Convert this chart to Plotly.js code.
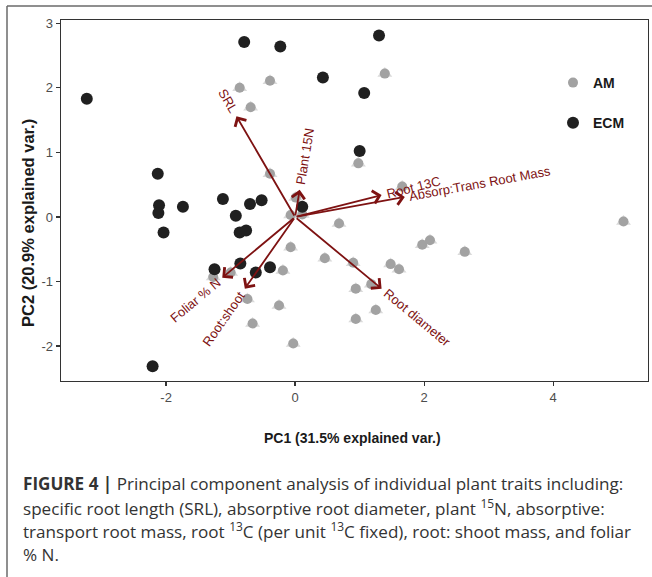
<!DOCTYPE html>
<html><head><meta charset="utf-8">
<script src="https://cdn.plot.ly/plotly-3.0.1.min.js"></script>
<style>html,body{margin:0;padding:0;background:#fff;}#chart{width:652px;height:577px;}</style>
</head><body><div id="chart"></div>
<script>
// ---- data ----
const groupNames = ["AM", "ECM"];
const amPC1 = [-0.86, -0.39, -0.69, -0.39, 1.39, 0.98, 1.66, 0.01, -0.07, 0.11, 0.68, -0.07, 0.46, 0.90, -1.00, -0.19, -1.27, -0.74, -0.25, -0.66, -0.03, 0.94, 1.18, 0.94, 1.25, 1.48, 1.61, 1.97, 2.09, 2.63, 5.09];
const amPC2 = [2.00, 2.11, 1.70, 0.67, 2.22, 0.83, 0.47, 0.30, 0.03, 0.04, -0.10, -0.47, -0.64, -0.71, -0.86, -0.83, -0.93, -1.27, -1.37, -1.65, -1.96, -1.11, -1.04, -1.58, -1.44, -0.73, -0.81, -0.43, -0.36, -0.54, -0.07];
const ecmPC1 = [-3.23, -0.79, -0.23, 0.43, 1.30, 1.07, 1.00, -2.13, -2.11, -2.12, -1.74, -2.04, -1.12, -0.92, -0.70, -0.52, -0.86, -0.76, 0.11, -1.25, -0.85, -0.61, -0.39, -2.21];
const ecmPC2 = [1.83, 2.71, 2.64, 2.16, 2.81, 1.92, 1.02, 0.67, 0.18, 0.06, 0.16, -0.24, 0.28, 0.02, 0.20, 0.26, -0.24, -0.21, 0.16, -0.81, -0.72, -0.86, -0.78, -2.31];
const varNames = ["SRL", "Plant 15N", "Root 13C", "Absorp:Trans Root Mass", "Root diameter", "Foliar % N", "Root:shoot"];
const loadPC1 = [-0.91, 0.07, 1.34, 1.70, 1.34, -1.13, -0.78];
const loadPC2 = [1.56, 0.42, 0.34, 0.31, -1.11, -0.94, -1.11];
const xTickVals = [-2, 0, 2, 4];
const yTickVals = [-2, -1, 0, 1, 2, 3];
const xTitle = "PC1 (31.5% explained var.)";
const yTitle = "PC2 (20.9% explained var.)";
const captionLines = [
  "<b>FIGURE 4 |</b> Principal component analysis of individual plant traits including:",
  "specific root length (SRL), absorptive root diameter, plant <sup>15</sup>N, absorptive:",
  "transport root mass, root <sup>13</sup>C (per unit <sup>13</sup>C fixed), root: shoot mass, and foliar",
  "% N."
];

// ---- layout constants ----
const W = 652, H = 577;
const M = {l: 61, r: 4, t: 20, b: 196};
const xRange = [-3.63, 5.47];
const yRange = [-2.54, 3.05];
const plotW = W - M.l - M.r, plotH = H - M.t - M.b;
const xs = plotW / (xRange[1] - xRange[0]);
const ys = plotH / (yRange[1] - yRange[0]);
const px2paperX = p => (p - M.l) / plotW;
const px2paperY = p => (H - M.b - p) / plotH;

const arrowColor = "#7e1212";
const labelFont = {family: "Liberation Sans, Arial, sans-serif", size: 13, color: arrowColor};

const cvs = document.createElement("canvas").getContext("2d");
cvs.font = "13px 'Liberation Sans', Arial, sans-serif";

const traces = [
  {type: "scatter", mode: "markers", x: amPC1, y: amPC2, name: groupNames[0], legendgroup: "am", showlegend: false,
   marker: {symbol: "triangle-up", size: 13, color: "#dadada"}, hoverinfo: "skip"},
  {type: "scatter", mode: "markers", x: amPC1, y: amPC2, name: groupNames[0], legendgroup: "am",
   marker: {symbol: "circle", size: 10, color: "#a2a2a2"}},
  {type: "scatter", mode: "markers", x: ecmPC1, y: ecmPC2, name: groupNames[1], legendgroup: "ecm",
   marker: {symbol: "circle", size: 12, color: "#202020"}}
];

const annotations = [];
varNames.forEach((nm, i) => {
  const lx = loadPC1[i], ly = loadPC2[i];
  annotations.push({x: lx, y: ly, ax: 0, ay: 0, xref: "x", yref: "y", axref: "x", ayref: "y",
    text: "", showarrow: true, arrowhead: 4, arrowsize: 1.4, arrowwidth: 1.8, arrowcolor: arrowColor, standoff: 0});
  let dx = lx * xs, dy = -ly * ys;
  const n = Math.hypot(dx, dy); dx /= n; dy /= n;
  const w = cvs.measureText(nm).width;
  const off = 5 + w / 2;
  const cxp = dx * off, cyp = dy * off;
  const ang = lx >= 0 ? Math.atan2(dy, dx) : Math.atan2(-dy, -dx);
  annotations.push({x: lx + cxp / xs, y: ly - cyp / ys, xref: "x", yref: "y", text: nm, showarrow: false,
    textangle: ang * 180 / Math.PI, xanchor: "center", yanchor: "middle", font: labelFont});
});

annotations.push({xref: "paper", yref: "paper", x: px2paperX(28), y: px2paperY(223), text: "<b>" + yTitle + "</b>",
  showarrow: false, textangle: -90, xanchor: "center", yanchor: "middle",
  font: {family: "Liberation Sans, Arial, sans-serif", size: 16.5, color: "#1a1a1a"}});
annotations.push({xref: "paper", yref: "paper", x: px2paperX(352), y: px2paperY(438), text: "<b>" + xTitle + "</b>",
  showarrow: false, xanchor: "center", yanchor: "middle",
  font: {family: "Liberation Sans, Arial, sans-serif", size: 14, color: "#1a1a1a"}});

const capY = [483.5, 507, 530.5, 554];
captionLines.forEach((t, i) => {
  annotations.push({xref: "paper", yref: "paper", x: px2paperX(21), y: px2paperY(capY[i]), text: t,
    showarrow: false, xanchor: "left", yanchor: "middle", align: "left",
    font: {family: "Open Sans, Liberation Sans, Arial, sans-serif", size: 17.1, color: "#333333"}});
});

const frameColor = "#6a6a6a";
const shapes = [
  {type: "line", xref: "paper", yref: "paper", x0: px2paperX(7), x1: px2paperX(W + 5), y0: px2paperY(6), y1: px2paperY(6),
   line: {color: frameColor, width: 1.5}},
  {type: "line", xref: "paper", yref: "paper", x0: px2paperX(7), x1: px2paperX(7), y0: px2paperY(6), y1: px2paperY(H + 5),
   line: {color: frameColor, width: 1.5}}
];

const axisCommon = {showgrid: false, zeroline: false, showline: true, mirror: true, linecolor: "#333", linewidth: 1.3,
  ticks: "outside", ticklen: 4, tickcolor: "#333", tickwidth: 1.3,
  tickfont: {family: "Liberation Sans, Arial, sans-serif", size: 13, color: "#4d4d4d"}};

const layout = {
  width: W, height: H, margin: M, paper_bgcolor: "#fff", plot_bgcolor: "#fff",
  xaxis: Object.assign({}, axisCommon, {range: xRange, tickvals: xTickVals, ticktext: xTickVals.map(String)}),
  yaxis: Object.assign({}, axisCommon, {range: yRange, tickvals: yTickVals, ticktext: yTickVals.map(String)}),
  showlegend: true,
  legend: {x: px2paperX(553), y: px2paperY(67), xanchor: "left", yanchor: "top", bgcolor: "rgba(0,0,0,0)",
    traceorder: "grouped", tracegroupgap: 19, itemwidth: 30,
    font: {family: "Liberation Sans, Arial, sans-serif", size: 14, color: "#1a1a1a", weight: "bold"}},
  annotations: annotations, shapes: shapes
};

Plotly.newPlot("chart", traces, layout, {displayModeBar: false, staticPlot: true});
</script>
</body></html>
